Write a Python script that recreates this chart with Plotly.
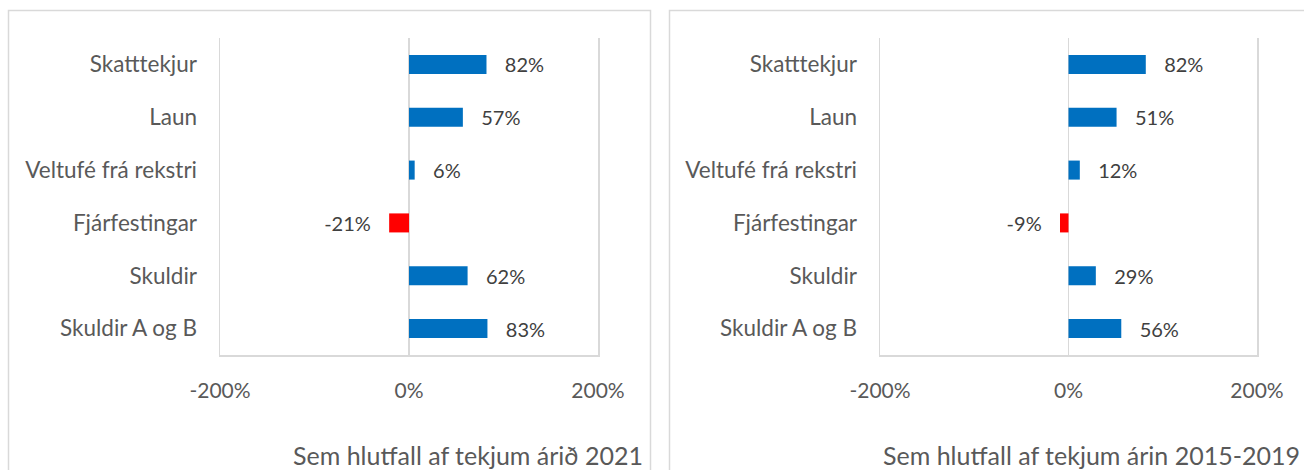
import plotly.graph_objects as go

categories = ["Skatttekjur", "Laun", "Veltufé frá rekstri", "Fjárfestingar", "Skuldir", "Skuldir A og B"]
values_2021 = [82, 57, 6, -21, 62, 83]
values_2015_2019 = [82, 51, 12, -9, 29, 56]
tick_vals = [-200, 0, 200]
tick_text = ["-200%", "0%", "200%"]
subtitle_left = "Sem hlutfall af tekjum árið 2021"
subtitle_right = "Sem hlutfall af tekjum árin 2015-2019"

W, H = 1304, 470
FONT = "Lato"
POS = "#0070C0"
NEG = "#FF0000"
GRID = "#d9d9d9"
NB = "\u00a0"


def px(x):
    return x / W


def py(y):
    return 1 - y / H


def labels(vals):
    out = []
    for v in vals:
        if v < 0:
            out.append(f"{v}%" + NB * 3)
        else:
            out.append(NB * 3 + f"{v}%")
    return out


fig = go.Figure()
for i, vals in enumerate([values_2021, values_2015_2019]):
    suffix = "" if i == 0 else "2"
    fig.add_trace(go.Bar(
        y=categories, x=vals, orientation="h",
        marker=dict(color=[NEG if v < 0 else POS for v in vals], line=dict(width=0)),
        text=labels(vals), textposition="outside", cliponaxis=False,
        constraintext="none",
        textfont=dict(family=FONT, size=20, color="#404040"),
        xaxis="x" + suffix, yaxis="y" + suffix, showlegend=False,
        hoverinfo="skip",
    ))

y_dom = [py(355), py(38)]
x_common = dict(range=[-200, 200], tickvals=tick_vals, ticktext=tick_text,
                showgrid=True, gridcolor=GRID, gridwidth=1.5,
                zeroline=True, zerolinecolor=GRID, zerolinewidth=1.5,
                showline=True, linecolor=GRID, linewidth=1.5,
                ticks="", ticklabelstandoff=16, automargin=False,
                tickfont=dict(family=FONT, size=21, color="#595959"), fixedrange=True)
y_common = dict(autorange="reversed", showgrid=False, zeroline=False,
                showline=True, mirror=True, linecolor=GRID, linewidth=1.5,
                ticks="", ticklabelstandoff=17, automargin=False,
                tickfont=dict(family=FONT, size=22.5, color="#595959"), fixedrange=True)

fig.update_layout(
    template="none",
    width=W, height=H,
    margin=dict(l=0, r=0, t=0, b=0, autoexpand=False),
    paper_bgcolor="white", plot_bgcolor="white",
    bargap=0.64,
    font=dict(family=FONT),
    xaxis=dict(domain=[px(220), px(598)], anchor="y", **x_common),
    yaxis=dict(domain=y_dom, anchor="x", **y_common),
    xaxis2=dict(domain=[px(880), px(1257)], anchor="y2", **x_common),
    yaxis2=dict(domain=y_dom, anchor="x2", **y_common),
    shapes=[
        dict(type="rect", xref="paper", yref="paper", x0=px(8.5), x1=px(650.5), y0=py(490), y1=py(10.5),
             line=dict(color=GRID, width=1.5), layer="below"),
        dict(type="rect", xref="paper", yref="paper", x0=px(669.5), x1=px(1330), y0=py(490), y1=py(10.5),
             line=dict(color=GRID, width=1.5), layer="below"),
    ],
    annotations=[
        dict(text=subtitle_left, xref="paper", yref="paper", x=px(645), y=py(455),
             xanchor="right", yanchor="middle", showarrow=False,
             font=dict(family=FONT, size=25, color="#595959")),
        dict(text=subtitle_right, xref="paper", yref="paper", x=px(1302), y=py(455),
             xanchor="right", yanchor="middle", showarrow=False,
             font=dict(family=FONT, size=25, color="#595959")),
    ],
)

fig.write_html("out.html", config={"displayModeBar": False, "staticPlot": True},
               post_script="document.body.style.margin='0';document.body.style.overflow='hidden';")
